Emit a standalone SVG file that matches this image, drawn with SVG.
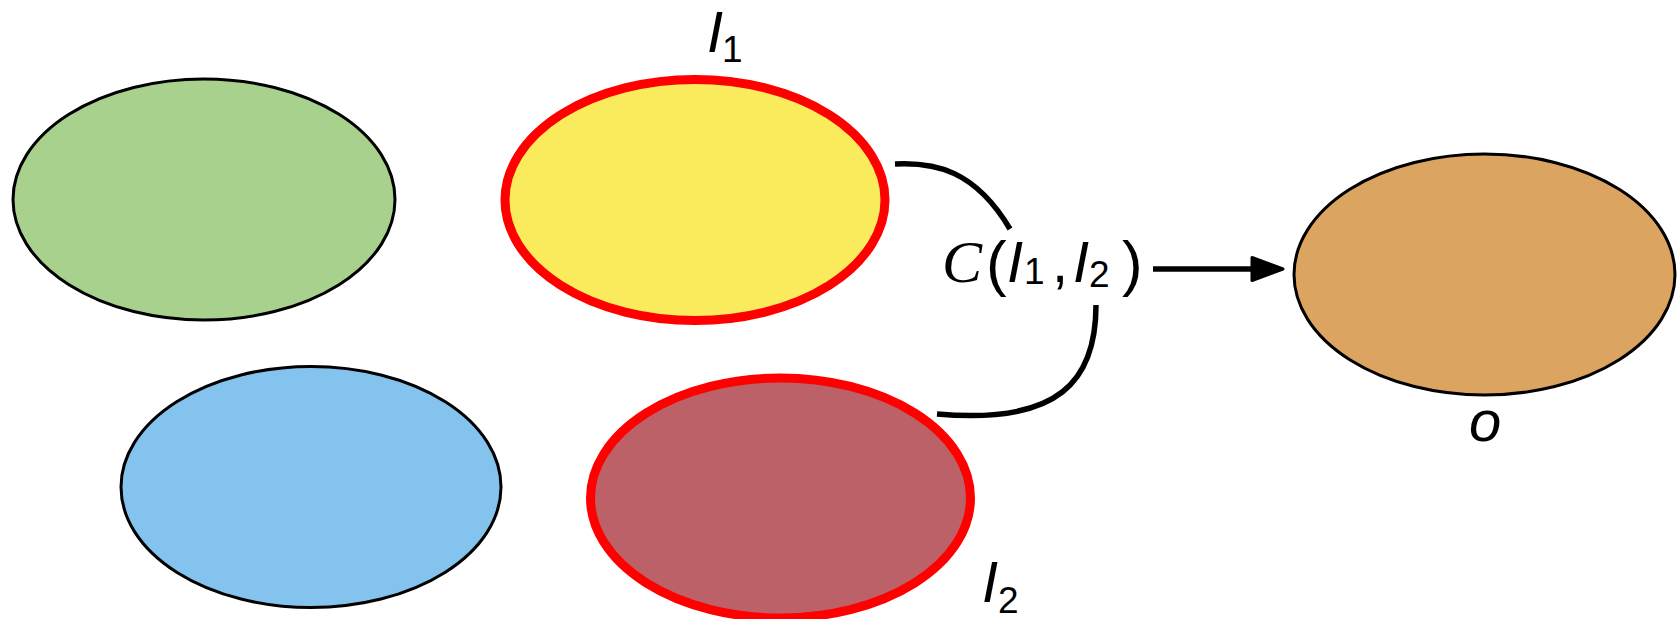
<svg xmlns="http://www.w3.org/2000/svg" width="1680" height="619" viewBox="0 0 1680 619">
  <style>
    .node { stroke: #000; stroke-width: 3; }
    .sel { stroke: #ff0000; stroke-width: 9; }
    .conn { fill: none; stroke: #000; stroke-width: 5.5; }
    .lbl { font-family: "Liberation Sans", Arial, sans-serif; fill: #000; }
    .it { font-style: italic; font-size: 58px; }
    .up { font-style: normal; font-size: 58px; }
    .par { font-style: normal; font-size: 62px; }
    .sub { font-style: normal; font-size: 37px; }
    .cal { font-family: "Liberation Serif", "Times New Roman", serif; font-style: italic; font-size: 60px; }
  </style>
  <defs>
    <marker id="arrow" viewBox="-2 -2 36 27" markerWidth="36" markerHeight="27" refX="13" refY="11.5" markerUnits="userSpaceOnUse" orient="auto" overflow="visible">
      <path d="M0,0 L31,11.5 L0,23 Z" fill="#000" stroke="#000" stroke-width="3" stroke-linejoin="round"/>
    </marker>
  </defs>
  <rect width="1680" height="619" fill="#fff"/>

  <g id="node-green">
    <ellipse class="node" cx="204" cy="199.5" rx="191" ry="120.5" fill="#A9D18E"/>
  </g>
  <g id="node-I1">
    <ellipse class="sel" cx="695" cy="200" rx="190" ry="120.5" fill="#F9EB5B"/>
    <text class="lbl"><tspan class="it" x="707" y="52">I</tspan><tspan class="sub" x="722" y="62">1</tspan></text>
  </g>
  <g id="node-blue">
    <ellipse class="node" cx="311" cy="487" rx="190" ry="120.5" fill="#83C3ED"/>
  </g>
  <g id="node-I2">
    <ellipse class="sel" cx="780.5" cy="498" rx="190" ry="120" fill="#BC6168"/>
    <text class="lbl"><tspan class="it" x="982" y="602">I</tspan><tspan class="sub" x="998" y="613">2</tspan></text>
  </g>
  <g id="node-O">
    <ellipse class="node" cx="1484.5" cy="274.5" rx="190.5" ry="120.5" fill="#DBA561"/>
    <text class="lbl it" x="1469" y="441">o</text>
  </g>

  <g id="connectors">
    <path class="conn" d="M895,164 C935,162 975,170 1010,229"/>
    <path class="conn" d="M1096,305 C1096,380 1060,425 937,414"/>
    <line class="conn" x1="1153" y1="269" x2="1265" y2="269" marker-end="url(#arrow)"/>
  </g>

  <g id="operator">
    <text class="lbl"><tspan class="cal" x="942" y="282">C</tspan><tspan class="par" x="986" y="284">(</tspan><tspan class="it" x="1007" y="282">I</tspan><tspan class="sub" x="1024" y="284">1</tspan><tspan class="up" x="1052" y="282">,</tspan><tspan class="it" x="1073" y="282">I</tspan><tspan class="sub" x="1089" y="287">2</tspan><tspan class="par" x="1122" y="284">)</tspan></text>
  </g>
</svg>
